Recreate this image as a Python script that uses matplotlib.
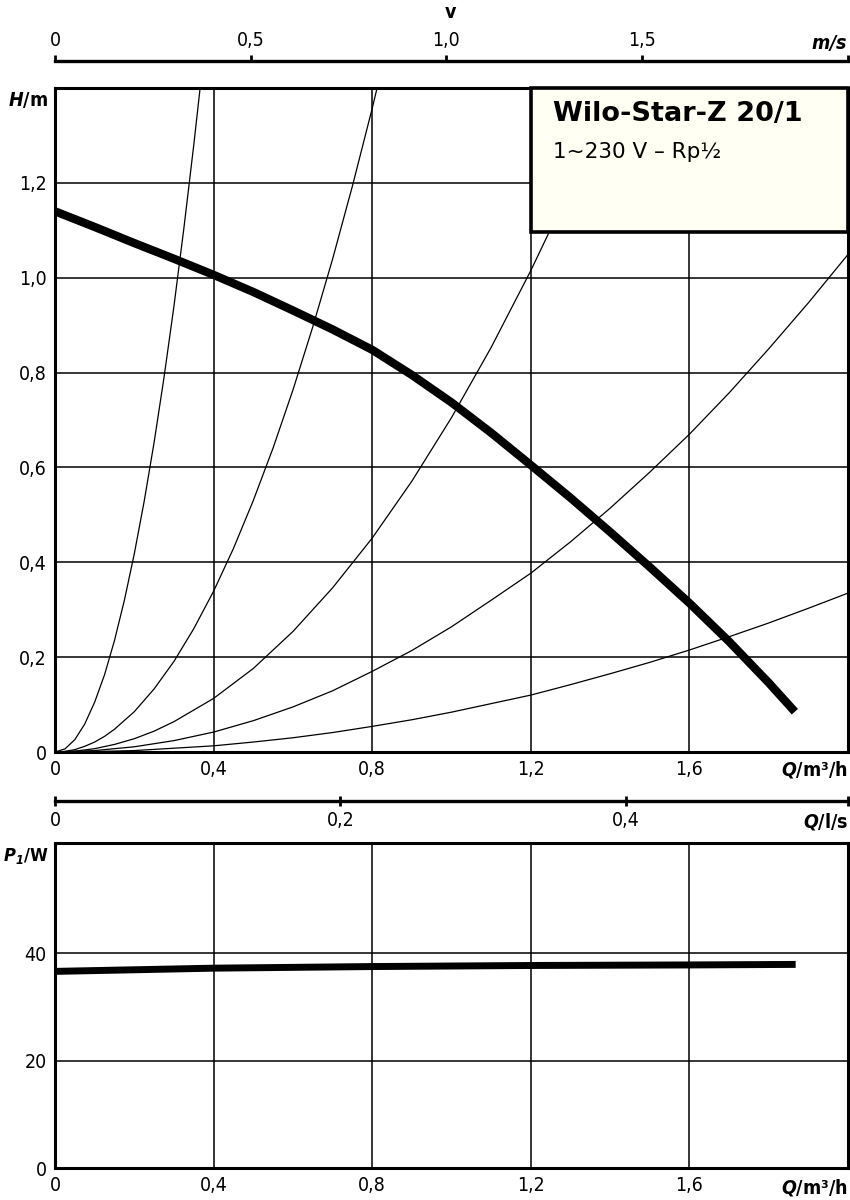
import matplotlib
matplotlib.use("Agg")
import matplotlib.pyplot as plt
from matplotlib.patches import Rectangle

plt.rcParams['font.family'] = ['DejaVu Sans']
plt.rcParams['font.stretch'] = 'condensed'
plt.rcParams['mathtext.fontset'] = 'custom'
plt.rcParams['mathtext.bfit'] = 'DejaVu Sans:italic:bold'
plt.rcParams['mathtext.rm'] = 'DejaVu Sans'

# pump curve H(Q)
pump_q = [0.0, 0.1, 0.2, 0.3, 0.4, 0.5, 0.6, 0.7, 0.8, 0.9, 1.0, 1.1, 1.2, 1.3, 1.4, 1.5, 1.6, 1.7, 1.8, 1.866]
pump_h = [1.14, 1.107, 1.073, 1.04, 1.006, 0.970, 0.931, 0.891, 0.848, 0.795, 0.737, 0.673, 0.605,
          0.536, 0.464, 0.390, 0.314, 0.233, 0.146, 0.085]

# system curves (thin lines)
sys1_q = [0.0, 0.025, 0.05, 0.075, 0.1, 0.125, 0.15, 0.175, 0.2, 0.225, 0.25, 0.275, 0.3, 0.325, 0.35, 0.37]
sys1_h = [0.0, 0.0065, 0.026, 0.059, 0.105, 0.163, 0.235, 0.32, 0.418, 0.529, 0.653, 0.79, 0.94, 1.104,
          1.28, 1.43]
sys2_q = [0.0, 0.025, 0.05, 0.075, 0.1, 0.125, 0.15, 0.2, 0.25, 0.3, 0.35, 0.4, 0.45, 0.5, 0.55, 0.6, 0.65,
          0.7, 0.75, 0.8, 0.85]
sys2_h = [0.0, 0.0013, 0.005, 0.012, 0.021, 0.033, 0.048, 0.085, 0.133, 0.191, 0.26, 0.339, 0.429, 0.53,
          0.641, 0.763, 0.896, 1.039, 1.193, 1.357, 1.532]
sys3_q = [0.0, 0.05, 0.1, 0.15, 0.2, 0.25, 0.3, 0.4, 0.5, 0.6, 0.7, 0.8, 0.9, 1.0, 1.1, 1.2, 1.3, 1.4, 1.5]
sys3_h = [0.0, 0.0018, 0.007, 0.016, 0.028, 0.044, 0.064, 0.113, 0.176, 0.254, 0.346, 0.451, 0.571, 0.705,
          0.853, 1.015, 1.19, 1.382, 1.586]
sys4_q = [0.0, 0.1, 0.2, 0.3, 0.4, 0.5, 0.6, 0.7, 0.8, 0.9, 1.0, 1.1, 1.2, 1.3, 1.4, 1.5, 1.6, 1.7, 1.8, 1.9, 2.0]
sys4_h = [0.0, 0.003, 0.011, 0.024, 0.042, 0.066, 0.095, 0.129, 0.17, 0.214, 0.264, 0.32, 0.377, 0.443,
          0.514, 0.59, 0.67, 0.757, 0.85, 0.947, 1.049]
sys5_q = sys4_q
sys5_h = [0.0, 0.001, 0.003, 0.008, 0.013, 0.021, 0.030, 0.041, 0.054, 0.068, 0.084, 0.102, 0.120, 0.142,
          0.165, 0.189, 0.215, 0.243, 0.272, 0.303, 0.335]
system_curves = [(sys1_q, sys1_h), (sys2_q, sys2_h), (sys3_q, sys3_h), (sys4_q, sys4_h), (sys5_q, sys5_h)]

# power input P1(Q)
power_q = [0.0, 0.4, 0.8, 1.2, 1.6, 1.868]
power_p = [36.6, 37.2, 37.5, 37.7, 37.8, 37.9]

q_ticks = [0, 0.4, 0.8, 1.2, 1.6]
q_ticklabels = ['0', '0,4', '0,8', '1,2', '1,6']
h_ticks = [0, 0.2, 0.4, 0.6, 0.8, 1.0, 1.2]
h_ticklabels = ['0', '0,2', '0,4', '0,6', '0,8', '1,0', '1,2']
p_ticks = [0, 20, 40]
p_ticklabels = ['0', '20', '40']
v_ticks = [0, 0.5, 1.0, 1.5]
v_ticklabels = ['0', '0,5', '1,0', '1,5']
ls_ticks = [0, 0.2, 0.4]
ls_ticklabels = ['0', '0,2', '0,4']

title = 'Wilo-Star-Z 20/1'
subtitle = '1~230 V – Rp½'

W, H = 850, 1200
fig = plt.figure(figsize=(8.5, 12), dpi=100)

def px(x0, y0, x1, y1):
    return [x0 / W, 1 - y1 / H, (x1 - x0) / W, (y1 - y0) / H]

tick_fs = 14
lab_fs = 14

# --- H(Q) diagram
ax = fig.add_axes(px(55, 88, 848, 752))
ax.set_xlim(0, 2.0)
ax.set_ylim(0, 1.4)
ax.set_xticks(q_ticks)
ax.set_xticklabels(q_ticklabels)
ax.set_yticks(h_ticks)
ax.set_yticklabels(h_ticklabels)
ax.tick_params(length=0, labelsize=tick_fs, pad=6)
ax.grid(True, color='black', linewidth=1.1)
for s in ax.spines.values():
    s.set_linewidth(2.2)
for qs, hs in system_curves:
    ax.plot(qs, hs, color='black', linewidth=0.9, zorder=3)
ax.plot(pump_q, pump_h, color='black', linewidth=6, solid_capstyle='butt', zorder=4)
box = Rectangle((1.2, 1.097), 0.8, 0.303, facecolor='#fffff4', edgecolor='black',
                linewidth=2.6, zorder=5, clip_on=False)
ax.add_patch(box)
ax.text(1.255, 1.345, title, fontsize=19.5, fontweight='bold', fontstretch='normal',
        va='center', ha='left', zorder=6)
ax.text(1.255, 1.266, subtitle, fontsize=15.5, fontstretch='normal', va='center', ha='left', zorder=6)

# --- P1(Q) diagram
ax2 = fig.add_axes(px(55, 843, 848, 1168))
ax2.set_xlim(0, 2.0)
ax2.set_ylim(0, 60.5)
ax2.set_xticks(q_ticks)
ax2.set_xticklabels(q_ticklabels)
ax2.set_yticks(p_ticks)
ax2.set_yticklabels(p_ticklabels)
ax2.tick_params(length=0, labelsize=tick_fs, pad=6)
ax2.grid(True, color='black', linewidth=1.1)
for s in ax2.spines.values():
    s.set_linewidth(2.2)
ax2.plot(power_q, power_p, color='black', linewidth=5, solid_capstyle='butt', zorder=4)

# --- velocity scale on top
axv = fig.add_axes(px(55, 61, 848, 62))
axv.set_xlim(0, 2.028)
axv.set_ylim(0, 1)
axv.set_yticks([])
axv.xaxis.tick_top()
axv.set_xticks(v_ticks + [2.028])
axv.set_xticklabels(v_ticklabels + [''])
axv.tick_params(axis='x', direction='out', length=4, width=2, labelsize=tick_fs, pad=4)
for k in ['bottom', 'left', 'right']:
    axv.spines[k].set_visible(False)
axv.spines['top'].set_linewidth(2.4)
axv.patch.set_visible(False)

# --- Q in l/s scale between the diagrams
axq = fig.add_axes(px(55, 800, 848, 801))
axq.set_xlim(0, 2.0 / 3.6)
axq.set_ylim(0, 1)
axq.set_yticks([])
axq.set_xticks(ls_ticks + [2.0 / 3.6])
axq.set_xticklabels(ls_ticklabels + [''])
axq.tick_params(axis='x', direction='inout', length=7, width=2, labelsize=tick_fs, pad=4)
for k in ['top', 'left', 'right']:
    axq.spines[k].set_visible(False)
axq.spines['bottom'].set_linewidth(2.4)
axq.patch.set_visible(False)

# axis labels
def ftext(x, y, s, size=lab_fs, **kw):
    fig.text(x / W, 1 - y / H, s, fontsize=size, fontweight='bold', **kw)

ftext(450, 12, 'v', ha='center', va='center')
ftext(848, 43, r'$\mathbfit{m/s}$', ha='right', va='center')
ftext(48, 100, r'$\mathbfit{H}$/m', ha='right', va='center')
ftext(848, 770, r'$\mathbfit{Q}$/m³/h', ha='right', va='center')
ftext(848, 822, r'$\mathbfit{Q}$/l/s', ha='right', va='center')
ftext(49, 856, r'$\mathbfit{P_1}$/W', size=13, ha='right', va='center')
ftext(848, 1187, r'$\mathbfit{Q}$/m³/h', ha='right', va='center')

fig.savefig('out.png', dpi=100)
